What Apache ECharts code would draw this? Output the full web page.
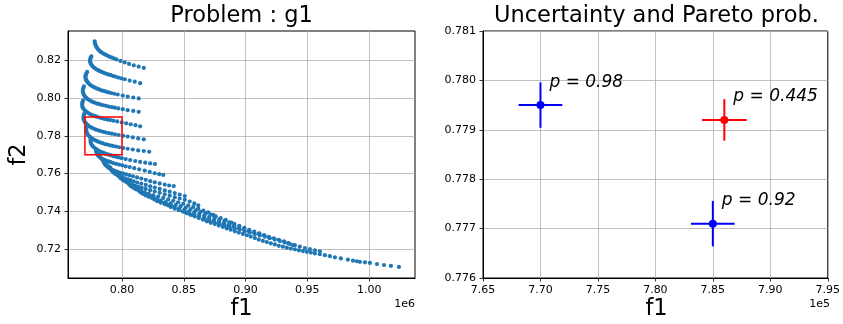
<!DOCTYPE html>
<html><head><meta charset="utf-8">
<script src="https://cdn.jsdelivr.net/npm/echarts@6/dist/echarts.min.js"></script>
<style>html,body{margin:0;padding:0;background:#fff}#c{width:843px;height:324px}</style>
</head><body><div id="c"></div>
<script>
// ---------- Left panel: "Problem : g1"  (f1 in units of 1e6, f2 raw) ----------
const curve01 = [[0.7779,0.8302],[0.7781,0.8292],[0.7785,0.8283],[0.7791,0.8275],[0.7798,0.8267],[0.7807,0.8259],[0.7818,0.8252],[0.7829,0.8246],[0.7842,0.8240],[0.7856,0.8235],[0.7870,0.8230],[0.7886,0.8225],[0.7902,0.8220],[0.7919,0.8216],[0.7937,0.8211],[0.7955,0.8206],[0.7987,0.8198],[0.8022,0.8190],[0.8057,0.8182],[0.8095,0.8175],[0.8135,0.8168],[0.8176,0.8161]];
const curve02 = [[0.7752,0.8222],[0.7746,0.8214],[0.7742,0.8206],[0.7741,0.8197],[0.7744,0.8189],[0.7750,0.8181],[0.7758,0.8173],[0.7768,0.8166],[0.7779,0.8160],[0.7792,0.8154],[0.7806,0.8149],[0.7820,0.8144],[0.7836,0.8140],[0.7852,0.8135],[0.7869,0.8131],[0.7887,0.8127],[0.7905,0.8124],[0.7925,0.8119],[0.7945,0.8115],[0.7969,0.8110],[0.7994,0.8106],[0.8022,0.8101],[0.8062,0.8094],[0.8103,0.8088],[0.8147,0.8080]];
const curve03 = [[0.7718,0.8140],[0.7711,0.8131],[0.7706,0.8122],[0.7704,0.8113],[0.7706,0.8104],[0.7711,0.8096],[0.7718,0.8088],[0.7728,0.8080],[0.7739,0.8073],[0.7752,0.8067],[0.7767,0.8061],[0.7782,0.8056],[0.7798,0.8051],[0.7815,0.8047],[0.7833,0.8042],[0.7852,0.8039],[0.7871,0.8035],[0.7892,0.8031],[0.7913,0.8028],[0.7937,0.8024],[0.7965,0.8020],[0.8006,0.8014],[0.8046,0.8009],[0.8091,0.8004],[0.8135,0.7999]];
const curve04 = [[0.7692,0.8063],[0.7687,0.8054],[0.7683,0.8044],[0.7683,0.8035],[0.7687,0.8025],[0.7693,0.8016],[0.7702,0.8008],[0.7713,0.8001],[0.7726,0.7994],[0.7741,0.7988],[0.7757,0.7982],[0.7774,0.7978],[0.7792,0.7973],[0.7810,0.7970],[0.7830,0.7966],[0.7850,0.7963],[0.7871,0.7960],[0.7893,0.7956],[0.7917,0.7953],[0.7941,0.7950],[0.7969,0.7946],[0.8006,0.7942],[0.8046,0.7937],[0.8091,0.7933],[0.8135,0.7928]];
const curve05 = [[0.7685,0.7988],[0.7680,0.7979],[0.7678,0.7970],[0.7678,0.7960],[0.7682,0.7951],[0.7690,0.7943],[0.7700,0.7935],[0.7712,0.7928],[0.7725,0.7922],[0.7741,0.7916],[0.7758,0.7911],[0.7776,0.7906],[0.7795,0.7902],[0.7815,0.7898],[0.7836,0.7894],[0.7858,0.7890],[0.7881,0.7887],[0.7905,0.7884],[0.7931,0.7881],[0.7961,0.7877],[0.7998,0.7872],[0.8034,0.7867],[0.8070,0.7862],[0.8109,0.7857],[0.8147,0.7851]];
const curve06 = [[0.7694,0.7917],[0.7690,0.7908],[0.7688,0.7898],[0.7690,0.7888],[0.7695,0.7879],[0.7702,0.7871],[0.7712,0.7864],[0.7724,0.7857],[0.7738,0.7850],[0.7753,0.7844],[0.7770,0.7839],[0.7788,0.7834],[0.7807,0.7830],[0.7827,0.7826],[0.7849,0.7822],[0.7870,0.7818],[0.7893,0.7815],[0.7917,0.7812],[0.7943,0.7809],[0.7973,0.7805],[0.8010,0.7801],[0.8046,0.7797],[0.8087,0.7792],[0.8131,0.7787],[0.8176,0.7782]];
const curve07 = [[0.7714,0.7848],[0.7711,0.7838],[0.7711,0.7828],[0.7714,0.7819],[0.7721,0.7810],[0.7729,0.7802],[0.7741,0.7795],[0.7754,0.7788],[0.7768,0.7782],[0.7785,0.7776],[0.7802,0.7771],[0.7821,0.7766],[0.7840,0.7762],[0.7861,0.7757],[0.7882,0.7754],[0.7904,0.7750],[0.7926,0.7747],[0.7951,0.7744],[0.7977,0.7740],[0.8010,0.7736],[0.8046,0.7732],[0.8087,0.7728],[0.8131,0.7723],[0.8176,0.7720],[0.8220,0.7716]];
const curve08 = [[0.7746,0.7784],[0.7745,0.7774],[0.7747,0.7765],[0.7753,0.7756],[0.7761,0.7747],[0.7772,0.7740],[0.7784,0.7733],[0.7798,0.7727],[0.7813,0.7721],[0.7830,0.7715],[0.7848,0.7711],[0.7866,0.7706],[0.7886,0.7702],[0.7906,0.7698],[0.7927,0.7694],[0.7949,0.7690],[0.7972,0.7686],[0.7998,0.7682],[0.8030,0.7677],[0.8066,0.7672],[0.8107,0.7667],[0.8147,0.7662],[0.8188,0.7658],[0.8228,0.7654],[0.8267,0.7651]];
const curve09 = [[0.7791,0.7725],[0.7792,0.7716],[0.7796,0.7707],[0.7803,0.7699],[0.7813,0.7691],[0.7825,0.7685],[0.7839,0.7679],[0.7854,0.7674],[0.7871,0.7669],[0.7890,0.7665],[0.7909,0.7661],[0.7930,0.7656],[0.7952,0.7652],[0.7976,0.7648],[0.8002,0.7644],[0.8030,0.7639],[0.8062,0.7635],[0.8099,0.7629],[0.8139,0.7623],[0.8184,0.7616],[0.8224,0.7609],[0.8265,0.7602],[0.8301,0.7597],[0.8334,0.7593]];
const curve10 = [[0.7848,0.7672],[0.7852,0.7662],[0.7859,0.7652],[0.7869,0.7644],[0.7881,0.7636],[0.7895,0.7630],[0.7910,0.7624],[0.7927,0.7619],[0.7946,0.7614],[0.7965,0.7609],[0.7986,0.7604],[0.8009,0.7600],[0.8033,0.7596],[0.8060,0.7591],[0.8089,0.7586],[0.8122,0.7580],[0.8156,0.7574],[0.8192,0.7567],[0.8228,0.7560],[0.8265,0.7554],[0.8305,0.7548],[0.8346,0.7542],[0.8382,0.7537],[0.8419,0.7534]];
const curve11 = [[0.7904,0.7633],[0.7911,0.7622],[0.7921,0.7613],[0.7933,0.7605],[0.7947,0.7598],[0.7964,0.7592],[0.7981,0.7586],[0.8001,0.7581],[0.8022,0.7575],[0.8045,0.7570],[0.8069,0.7565],[0.8095,0.7559],[0.8123,0.7553],[0.8156,0.7547],[0.8192,0.7540],[0.8228,0.7533],[0.8265,0.7526],[0.8305,0.7519],[0.8346,0.7511],[0.8386,0.7504],[0.8427,0.7497],[0.8467,0.7489],[0.8508,0.7481]];
const curve12 = [[0.7969,0.7595],[0.7977,0.7585],[0.7989,0.7576],[0.8004,0.7568],[0.8020,0.7561],[0.8038,0.7554],[0.8058,0.7549],[0.8080,0.7543],[0.8104,0.7537],[0.8131,0.7531],[0.8160,0.7525],[0.8192,0.7519],[0.8228,0.7512],[0.8265,0.7505],[0.8305,0.7498],[0.8346,0.7490],[0.8386,0.7483],[0.8427,0.7475],[0.8467,0.7468],[0.8508,0.7461],[0.8548,0.7452],[0.8585,0.7442],[0.8617,0.7432]];
const curve13 = [[0.8046,0.7553],[0.8058,0.7542],[0.8073,0.7533],[0.8090,0.7525],[0.8109,0.7518],[0.8131,0.7512],[0.8156,0.7506],[0.8184,0.7499],[0.8216,0.7492],[0.8253,0.7485],[0.8293,0.7478],[0.8334,0.7471],[0.8374,0.7463],[0.8415,0.7456],[0.8455,0.7448],[0.8496,0.7440],[0.8536,0.7431],[0.8577,0.7423],[0.8617,0.7414],[0.8658,0.7404],[0.8698,0.7394],[0.8739,0.7381]];
const curve14 = [[0.8135,0.7510],[0.8151,0.7500],[0.8170,0.7492],[0.8192,0.7484],[0.8216,0.7477],[0.8245,0.7471],[0.8277,0.7464],[0.8313,0.7457],[0.8354,0.7449],[0.8394,0.7442],[0.8435,0.7434],[0.8475,0.7427],[0.8516,0.7420],[0.8556,0.7412],[0.8597,0.7405],[0.8637,0.7397],[0.8678,0.7390],[0.8718,0.7382],[0.8759,0.7373],[0.8799,0.7364],[0.8840,0.7354],[0.8885,0.7340]];
const curve15 = [[0.8241,0.7473],[0.8261,0.7463],[0.8285,0.7454],[0.8313,0.7446],[0.8346,0.7438],[0.8382,0.7431],[0.8423,0.7423],[0.8463,0.7416],[0.8504,0.7408],[0.8544,0.7401],[0.8585,0.7394],[0.8625,0.7386],[0.8666,0.7379],[0.8706,0.7371],[0.8747,0.7364],[0.8787,0.7356],[0.8828,0.7349],[0.8868,0.7341],[0.8909,0.7333],[0.8949,0.7323],[0.8990,0.7312],[0.9030,0.7298]];
const curve16 = [[0.8370,0.7433],[0.8394,0.7423],[0.8427,0.7414],[0.8463,0.7406],[0.8504,0.7398],[0.8544,0.7391],[0.8585,0.7384],[0.8625,0.7376],[0.8666,0.7369],[0.8706,0.7361],[0.8747,0.7354],[0.8787,0.7346],[0.8828,0.7339],[0.8868,0.7331],[0.8909,0.7324],[0.8949,0.7317],[0.8990,0.7309],[0.9030,0.7301],[0.9071,0.7292],[0.9111,0.7283],[0.9152,0.7273],[0.9192,0.7259]];
const curve17 = [[0.8508,0.7399],[0.8540,0.7388],[0.8581,0.7379],[0.8621,0.7371],[0.8662,0.7363],[0.8702,0.7355],[0.8743,0.7347],[0.8783,0.7340],[0.8824,0.7333],[0.8864,0.7325],[0.8905,0.7318],[0.8945,0.7310],[0.8986,0.7303],[0.9026,0.7295],[0.9067,0.7288],[0.9107,0.7280],[0.9148,0.7273],[0.9188,0.7265],[0.9229,0.7257],[0.9269,0.7249],[0.9310,0.7240],[0.9346,0.7231],[0.9383,0.7221]];
const curve18 = [[0.8670,0.7359],[0.8710,0.7348],[0.8751,0.7339],[0.8791,0.7331],[0.8832,0.7324],[0.8872,0.7317],[0.8913,0.7309],[0.8953,0.7302],[0.8994,0.7294],[0.9034,0.7287],[0.9075,0.7279],[0.9115,0.7272],[0.9156,0.7265],[0.9196,0.7257],[0.9237,0.7250],[0.9277,0.7242],[0.9318,0.7235],[0.9358,0.7227],[0.9399,0.7220],[0.9439,0.7212],[0.9480,0.7205],[0.9520,0.7199],[0.9561,0.7193],[0.9601,0.7188]];
const envelope = [[0.7793,0.7720],[0.7799,0.7711],[0.7807,0.7701],[0.7817,0.7692],[0.7827,0.7684],[0.7838,0.7676],[0.7852,0.7665],[0.7868,0.7653],[0.7884,0.7643],[0.7900,0.7631],[0.7917,0.7621],[0.7933,0.7612],[0.7949,0.7604],[0.7965,0.7595],[0.7981,0.7587],[0.7998,0.7579],[0.8018,0.7570],[0.8038,0.7560],[0.8058,0.7551],[0.8079,0.7541],[0.8103,0.7530],[0.8127,0.7520],[0.8151,0.7510],[0.8176,0.7501],[0.8200,0.7491],[0.8228,0.7482],[0.8257,0.7473],[0.8285,0.7463],[0.8313,0.7454],[0.8342,0.7445],[0.8370,0.7436],[0.8399,0.7427],[0.8427,0.7417],[0.8459,0.7407],[0.8492,0.7399],[0.8524,0.7390],[0.8556,0.7381],[0.8589,0.7373],[0.8621,0.7364],[0.8654,0.7356],[0.8686,0.7347],[0.8718,0.7339],[0.8751,0.7332],[0.8783,0.7324],[0.8816,0.7317],[0.8848,0.7309],[0.8880,0.7302],[0.8913,0.7294],[0.8945,0.7287],[0.8978,0.7280],[0.9010,0.7273],[0.9042,0.7266],[0.9075,0.7258],[0.9107,0.7250],[0.9140,0.7243],[0.9172,0.7237],[0.9204,0.7230],[0.9237,0.7224],[0.9269,0.7217],[0.9302,0.7212],[0.9334,0.7207],[0.9366,0.7202],[0.9399,0.7198],[0.9431,0.7193],[0.9464,0.7189],[0.9496,0.7185],[0.9528,0.7181],[0.9561,0.7176],[0.9601,0.7172],[0.9642,0.7167],[0.9682,0.7162],[0.9723,0.7156],[0.9771,0.7150],[0.9828,0.7143],[0.9869,0.7138],[0.9901,0.7135],[0.9925,0.7132],[0.9966,0.7129],[1.0006,0.7126],[1.0063,0.7120],[1.0120,0.7115],[1.0176,0.7110],[1.0241,0.7105]];
const zoomBox = [0.77, 0.77, 0.80, 0.79]; // f1min, f2min, f1max, f2max (f1 in 1e6)
const leftXTicks = [0.80, 0.85, 0.90, 0.95, 1.00];
const leftYTicks = [0.72, 0.74, 0.76, 0.78, 0.80, 0.82];

// ---------- Right panel: "Uncertainty and Pareto prob." ----------
const candF1 = [770000, 786000, 785000];
const candF2 = [0.7795, 0.7792, 0.7771];
const candF1Err = [1900, 1950, 1900];
const candF2Err = [0.00046, 0.00042, 0.00046];
const candLabels = ['p = 0.98', 'p = 0.445', 'p = 0.92'];
const rightXTicks = [765000, 770000, 775000, 780000, 785000, 790000, 795000];
const rightYTicks = [0.776, 0.777, 0.778, 0.779, 0.780, 0.781];

const candColors = ['#0000ff', '#ff0000', '#0000ff'];
const FONT = '"DejaVu Sans", Arial, sans-serif';
const allPoints = [].concat(curve01, curve02, curve03, curve04, curve05, curve06, curve07, curve08, curve09,
  curve10, curve11, curve12, curve13, curve14, curve15, curve16, curve17, curve18, envelope);

const tickStyle = {show: true, inside: false, length: 3.5, lineStyle: {color: '#000', width: 0.8}};
const labelStyle = {color: '#000', fontSize: 11, fontFamily: FONT, margin: 7};
const gridLine = {show: true, lineStyle: {color: '#b0b0b0', width: 0.8}};
const bigText = '22.5px ' + FONT;

const chart = echarts.init(document.getElementById('c'), null, {renderer: 'canvas'});
chart.setOption({
  animation: false,
  backgroundColor: '#fff',
  grid: [
    {left: 68, top: 31, width: 347, height: 247, show: true, borderColor: '#000', borderWidth: 1, backgroundColor: 'transparent'},
    {left: 483, top: 31, width: 347, height: 247, show: true, borderColor: '#000', borderWidth: 1, backgroundColor: 'transparent'}
  ],
  xAxis: [
    {gridIndex: 0, type: 'value', min: 0.7563, max: 1.0371, minInterval: 0.05, maxInterval: 0.05,
     axisLine: {show: true, onZero: false, lineStyle: {color: '#000', width: 1}},
     axisTick: Object.assign({customValues: leftXTicks}, tickStyle),
     axisLabel: Object.assign({customValues: leftXTicks, formatter: v => v.toFixed(2)}, labelStyle),
     splitLine: gridLine},
    {gridIndex: 1, type: 'value', min: 765000, max: 795000, interval: 5000,
     axisLine: {show: true, onZero: false, lineStyle: {color: '#000', width: 1}},
     axisTick: Object.assign({customValues: rightXTicks}, tickStyle),
     axisLabel: Object.assign({customValues: rightXTicks, formatter: v => (v / 1e5).toFixed(2)}, labelStyle),
     splitLine: gridLine}
  ],
  yAxis: [
    {gridIndex: 0, type: 'value', min: 0.7046, max: 0.8357, minInterval: 0.02, maxInterval: 0.02,
     axisLine: {show: true, onZero: false, lineStyle: {color: '#000', width: 1}},
     axisTick: Object.assign({customValues: leftYTicks}, tickStyle),
     axisLabel: Object.assign({customValues: leftYTicks, formatter: v => v.toFixed(2)}, labelStyle),
     splitLine: gridLine},
    {gridIndex: 1, type: 'value', min: 0.776, max: 0.781, interval: 0.001,
     axisLine: {show: true, onZero: false, lineStyle: {color: '#000', width: 1}},
     axisTick: Object.assign({customValues: rightYTicks}, tickStyle),
     axisLabel: Object.assign({customValues: rightYTicks, formatter: v => v.toFixed(3)}, labelStyle),
     splitLine: gridLine}
  ],
  series: [
    {type: 'scatter', xAxisIndex: 0, yAxisIndex: 0, data: allPoints, symbol: 'circle', symbolSize: 4.2,
     itemStyle: {color: '#1f77b4', opacity: 1}, silent: true, z: 3},
    {type: 'custom', xAxisIndex: 0, yAxisIndex: 0, data: [zoomBox], z: 5, silent: true,
     renderItem: (params, api) => {
       const p0 = api.coord([api.value(0), api.value(3)]);
       const p1 = api.coord([api.value(2), api.value(1)]);
       return {type: 'rect', shape: {x: p0[0], y: p0[1], width: p1[0] - p0[0], height: p1[1] - p0[1]},
               style: {fill: 'none', stroke: '#ff0000', lineWidth: 1.5}};
     }},
    {type: 'custom', xAxisIndex: 1, yAxisIndex: 1, z: 5, silent: true,
     data: candF1.map((v, i) => [v, candF2[i], candF1Err[i], candF2Err[i]]),
     renderItem: (params, api) => {
       const i = params.dataIndex;
       const x = api.value(0), y = api.value(1), ex = api.value(2), ey = api.value(3);
       const c = api.coord([x, y]);
       const l = api.coord([x - ex, y]), r = api.coord([x + ex, y]);
       const t = api.coord([x, y + ey]), b = api.coord([x, y - ey]);
       const col = candColors[i];
       return {type: 'group', children: [
         {type: 'line', shape: {x1: l[0], y1: l[1], x2: r[0], y2: r[1]}, style: {stroke: col, lineWidth: 2}},
         {type: 'line', shape: {x1: t[0], y1: t[1], x2: b[0], y2: b[1]}, style: {stroke: col, lineWidth: 2}},
         {type: 'circle', shape: {cx: c[0], cy: c[1], r: 4}, style: {fill: col}},
         {type: 'text', x: c[0] + 9, y: c[1] - 14.5,
          style: {text: candLabels[i], fill: '#000', font: 'italic 17px ' + FONT,
                  align: 'left', textAlign: 'left', verticalAlign: 'bottom', textVerticalAlign: 'bottom'}}
       ]};
     }}
  ],
  graphic: [
    {type: 'text', x: 241.5, y: 16, style: {text: 'Problem : g1', font: bigText, fill: '#000', align: 'center', textAlign: 'center', verticalAlign: 'middle', textVerticalAlign: 'middle'}},
    {type: 'text', x: 656.5, y: 16, style: {text: 'Uncertainty and Pareto prob.', font: bigText, fill: '#000', align: 'center', textAlign: 'center', verticalAlign: 'middle', textVerticalAlign: 'middle'}},
    {type: 'text', x: 241.5, y: 309, style: {text: 'f1', font: bigText, fill: '#000', align: 'center', textAlign: 'center', verticalAlign: 'middle', textVerticalAlign: 'middle'}},
    {type: 'text', x: 656.5, y: 309, style: {text: 'f1', font: bigText, fill: '#000', align: 'center', textAlign: 'center', verticalAlign: 'middle', textVerticalAlign: 'middle'}},
    {type: 'text', x: 19, y: 154.5, rotation: Math.PI / 2, style: {text: 'f2', font: bigText, fill: '#000', align: 'center', textAlign: 'center', verticalAlign: 'middle', textVerticalAlign: 'middle'}},
    {type: 'text', x: 415, y: 304.5, style: {text: '1e6', font: '11px ' + FONT, fill: '#000', align: 'right', textAlign: 'right', verticalAlign: 'middle', textVerticalAlign: 'middle'}},
    {type: 'text', x: 830, y: 304.5, style: {text: '1e5', font: '11px ' + FONT, fill: '#000', align: 'right', textAlign: 'right', verticalAlign: 'middle', textVerticalAlign: 'middle'}}
  ]
});
</script>
</body></html>
